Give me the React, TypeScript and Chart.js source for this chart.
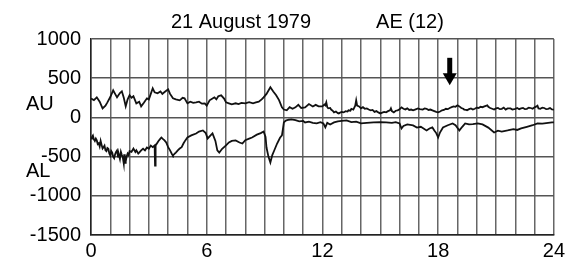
import React, { useEffect, useRef } from "react";
import { Chart, registerables } from "chart.js";

Chart.register(...registerables);

const auHours = [0, 0.15, 0.3, 0.45, 0.6, 0.75, 0.85, 1.0, 1.15, 1.25, 1.35, 1.5, 1.6, 1.7, 1.8, 1.9, 2.0, 2.1, 2.2, 2.35, 2.5, 2.6, 2.75, 2.9, 3.0, 3.1, 3.2, 3.3, 3.45, 3.6, 3.7, 3.8, 3.9, 4.0, 4.1, 4.25, 4.4, 4.6, 4.75, 4.85, 5.0, 5.15, 5.3, 5.45, 5.6, 5.75, 5.9, 6.0, 6.15, 6.3, 6.4, 6.5, 6.6, 6.75, 6.9, 7.0, 7.15, 7.3, 7.5, 7.65, 7.8, 8.0, 8.2, 8.4, 8.55, 8.7, 8.85, 8.95, 9.1, 9.3, 9.45, 9.6, 9.75, 9.9, 10.0, 10.15, 10.3, 10.45, 10.6, 10.75, 10.9, 11.1, 11.3, 11.5, 11.65, 11.8,
  12.0, 12.1, 12.15, 12.2, 12.25, 12.3, 12.4, 12.45, 12.55, 12.6, 12.7, 12.8, 12.85, 12.95, 13.0, 13.1, 13.2, 13.3, 13.35, 13.45, 13.5, 13.6, 13.7, 13.75, 13.8, 13.9, 14.0, 14.1, 14.2, 14.3, 14.4, 14.5, 14.6, 14.7, 14.8, 14.9, 15.0, 15.1, 15.2, 15.3, 15.4, 15.5, 15.55, 15.6, 15.7, 15.8, 15.9, 16.0, 16.1, 16.2, 16.3, 16.4, 16.5, 16.6, 16.7, 16.8, 16.95, 17.05, 17.2, 17.3, 17.4, 17.5, 17.6, 17.7, 17.8, 17.9, 18.0, 18.1, 18.2, 18.3, 18.4, 18.5, 18.6, 18.7, 18.8, 18.9, 19.0, 19.1, 19.2, 19.3, 19.35, 19.45, 19.5, 19.6, 19.7, 19.8, 19.9, 20.0, 20.1, 20.2, 20.3, 20.4, 20.55, 20.6, 20.7, 20.8, 20.9, 21.0, 21.1, 21.2, 21.3, 21.4, 21.5, 21.6, 21.75, 21.85, 22.0, 22.1, 22.2, 22.3, 22.4, 22.5, 22.6, 22.7, 22.8, 22.9, 23.0, 23.1, 23.15, 23.2, 23.3, 23.4, 23.5, 23.6, 23.7, 23.8, 23.9, 24.0];
const auValues = [240, 220, 256, 200, 115, 150, 192, 260, 346, 300, 256, 310, 333, 250, 141, 230, 282, 250, 270, 179, 200, 141, 190, 243, 230, 300, 371, 320, 307, 330, 300, 320, 340, 358, 300, 243, 230, 218, 250, 243, 179, 200, 185, 192, 200, 175, 179, 150, 218, 240, 256, 230, 270, 282, 240, 192, 180, 166, 180, 170, 185, 179, 195, 180, 192, 200, 230, 256, 300, 384, 330, 282, 220, 128, 100, 90, 130, 110, 128, 160, 120, 128, 170, 140, 160, 141,
  140, 165, 154, 192, 130, 115, 120, 100, 80, 64, 75, 55, 51, 65, 70, 64, 80, 75, 90, 85, 110, 100, 150, 218, 150, 140, 115, 130, 110, 115, 100, 90, 95, 70, 80, 64, 51, 60, 70, 65, 80, 90, 115, 80, 64, 85, 90, 105, 128, 110, 102, 115, 95, 100, 90, 100, 115, 105, 100, 115, 110, 95, 100, 90, 80, 70, 64, 75, 90, 95, 110, 105, 120, 130, 140, 135, 154, 140, 120, 110, 100, 95, 90, 105, 115, 100, 110, 125, 120, 135, 130, 140, 154, 135, 120, 110, 100, 115, 120, 105, 110, 125, 100, 115, 115, 100, 110, 120, 105, 115, 120, 105, 110, 125, 120, 110, 128, 140, 150, 115, 110, 125, 120, 105, 110, 120, 102, 100];

const alHours = [0, 0.05, 0.1, 0.15, 0.2, 0.25, 0.3, 0.35, 0.4, 0.45, 0.5, 0.55, 0.6, 0.65, 0.7, 0.75, 0.8, 0.85, 0.9, 0.95, 1.0, 1.05, 1.1, 1.15, 1.2, 1.25, 1.3, 1.35, 1.4, 1.45, 1.5, 1.55, 1.6, 1.65, 1.7, 1.72, 1.75, 1.78, 1.8, 1.85, 1.9, 1.95, 2.0, 2.1, 2.2, 2.3, 2.35, 2.45, 2.5, 2.6, 2.7, 2.8, 2.9, 3.0, 3.1, 3.2, 3.3, 3.32, 3.35, 3.45, 3.5, 3.6, 3.65, 3.75, 3.8, 3.9, 4.0, 4.1, 4.2, 4.25, 4.35, 4.4, 4.5, 4.6, 4.7, 4.8, 4.9,
  5.0, 5.2, 5.45, 5.6, 5.8, 5.95, 6.05, 6.2, 6.3, 6.45, 6.55, 6.65, 6.8, 7.0, 7.15, 7.3, 7.5, 7.7, 7.85, 8.0, 8.2, 8.35, 8.6, 8.8, 8.95, 9.05, 9.1, 9.2, 9.3, 9.4, 9.5, 9.65, 9.8, 9.9, 9.95, 10.0, 10.1, 10.25, 10.4, 10.6, 10.8, 11.0, 11.1, 11.3, 11.5, 11.7, 11.9, 12.05, 12.15, 12.25, 12.4, 12.6, 12.8, 13.0, 13.25, 13.5, 13.75, 14.0, 14.3, 14.65, 15.0, 15.3, 15.6, 15.8, 16.0, 16.1, 16.2, 16.4, 16.7, 16.9, 17.1, 17.4, 17.55, 17.7, 17.8, 17.9, 18.0, 18.1, 18.25, 18.5, 18.75, 18.9, 19.1, 19.25, 19.4, 19.6, 19.8, 20.05, 20.3, 20.6, 20.9, 21.1, 21.3, 21.6, 21.9, 22.1, 22.3, 22.6, 22.9, 23.15, 23.4, 23.7, 23.9, 24.0];
const alValues = [-269, -250, -230, -280, -300, -270, -294, -340, -330, -370, -300, -350, -397, -380, -360, -420, -430, -390, -400, -460, -486, -430, -450, -500, -520, -470, -440, -422, -500, -480, -530, -440, -480, -512, -589, -480, -470, -580, -560, -500, -461, -480, -430, -440, -397, -440, -420, -460, -448, -420, -400, -420, -384, -400, -360, -380, -358, -614, -360, -320, -300, -270, -256, -280, -290, -320, -380, -420, -470, -486, -460, -450, -420, -397, -380, -330, -290,
  -256, -230, -205, -180, -166, -200, -269, -230, -205, -300, -420, -448, -400, -358, -320, -300, -294, -320, -333, -290, -270, -256, -220, -200, -180, -250, -384, -500, -576, -480, -422, -333, -260, -230, -150, -64, -40, -30, -26, -35, -50, -45, -64, -55, -70, -77, -60, -77, -128, -70, -90, -64, -50, -45, -38, -60, -55, -77, -70, -64, -60, -64, -70, -60, -77, -141, -110, -90, -102, -130, -120, -166, -141, -128, -166, -200, -256, -190, -128, -100, -77, -100, -166, -120, -77, -90, -85, -77, -90, -130, -192, -170, -180, -166, -150, -160, -141, -120, -100, -77, -80, -70, -64, -64];

const xTickLabels = ["0", "6", "12", "18", "24"];
const yTickLabels = ["-1500", "-1000", "-500", "0", "500", "1000"];
const titleLeft = "21 August 1979";
const titleRight = "AE (12)";
const arrowHour = 18.6;
const arrowTop = 760;
const arrowTip = 410;

const FONT = "'Liberation Sans', Arial, sans-serif";

const overlayPlugin = {
  id: "overlay",
  afterDraw(chart: any) {
    const ctx = chart.ctx;
    const xs = chart.scales.x;
    const ys = chart.scales.y;
    ctx.save();
    ctx.fillStyle = "#000";
    ctx.font = `20px ${FONT}`;
    ctx.textAlign = "center";
    ctx.textBaseline = "alphabetic";
    ctx.fillText(titleLeft, 241, 28);
    ctx.fillText(titleRight, 410, 28);
    ctx.textAlign = "left";
    ctx.textBaseline = "middle";
    ctx.fillText("AU", 26, 104);
    ctx.fillText("AL", 26, 171);
    const ax = xs.getPixelForValue(arrowHour);
    const yTop = ys.getPixelForValue(arrowTop);
    const yTip = ys.getPixelForValue(arrowTip);
    const headH = 12;
    ctx.fillRect(ax - 2.5, yTop, 5, yTip - yTop - headH + 1);
    ctx.beginPath();
    ctx.moveTo(ax - 7, yTip - headH);
    ctx.lineTo(ax + 7, yTip - headH);
    ctx.lineTo(ax, yTip);
    ctx.closePath();
    ctx.fill();
    ctx.restore();
  },
};

export default function App() {
  const ref = useRef<HTMLCanvasElement>(null);
  useEffect(() => {
    document.body.style.margin = "0";
    const canvas = ref.current!;
    const chart = new Chart(canvas, {
      type: "line",
      data: {
        datasets: [
          {
            label: "AU",
            data: auHours.map((h, i) => ({ x: h, y: auValues[i] })),
            borderColor: "#111",
            borderWidth: 1.8,
            pointRadius: 0,
            tension: 0,
          },
          {
            label: "AL",
            data: alHours.map((h, i) => ({ x: h, y: alValues[i] })),
            borderColor: "#111",
            borderWidth: 1.8,
            pointRadius: 0,
            tension: 0,
          },
        ],
      },
      options: {
        responsive: false,
        animation: false,
        layout: { padding: { top: 39, right: 13, left: 0, bottom: 0 } },
        plugins: {
          legend: { display: false },
          tooltip: { enabled: false },
          title: { display: false },
        },
        scales: {
          x: {
            type: "linear",
            min: 0,
            max: 24,
            afterFit: (s: any) => {
              s.height = 29;
            },
            ticks: {
              stepSize: 1,
              autoSkip: false,
              maxRotation: 0,
              padding: 4,
              color: "#000",
              font: { family: FONT, size: 20 },
              callback: (v: any) => {
                const s = String(v);
                return xTickLabels.includes(s) ? s : "";
              },
            },
            grid: { color: "#666", lineWidth: 1.5, drawTicks: false },
            border: { color: "#222", width: 1.5 },
          },
          y: {
            type: "linear",
            min: -1500,
            max: 1000,
            afterFit: (s: any) => {
              s.width = 91;
            },
            ticks: {
              stepSize: 500,
              padding: 10,
              color: "#000",
              font: { family: FONT, size: 20 },
              callback: (v: any) => {
                const s = String(v);
                return yTickLabels.includes(s) ? s : "";
              },
            },
            grid: { color: "#555", lineWidth: 1.5, drawTicks: false },
            border: { color: "#222", width: 1.5 },
          },
        },
      },
      plugins: [overlayPlugin],
    });
    return () => chart.destroy();
  }, []);
  return (
    <div style={{ width: 569, height: 264 }}>
      <canvas ref={ref} width={569} height={264} style={{ display: "block" }} />
    </div>
  );
}
